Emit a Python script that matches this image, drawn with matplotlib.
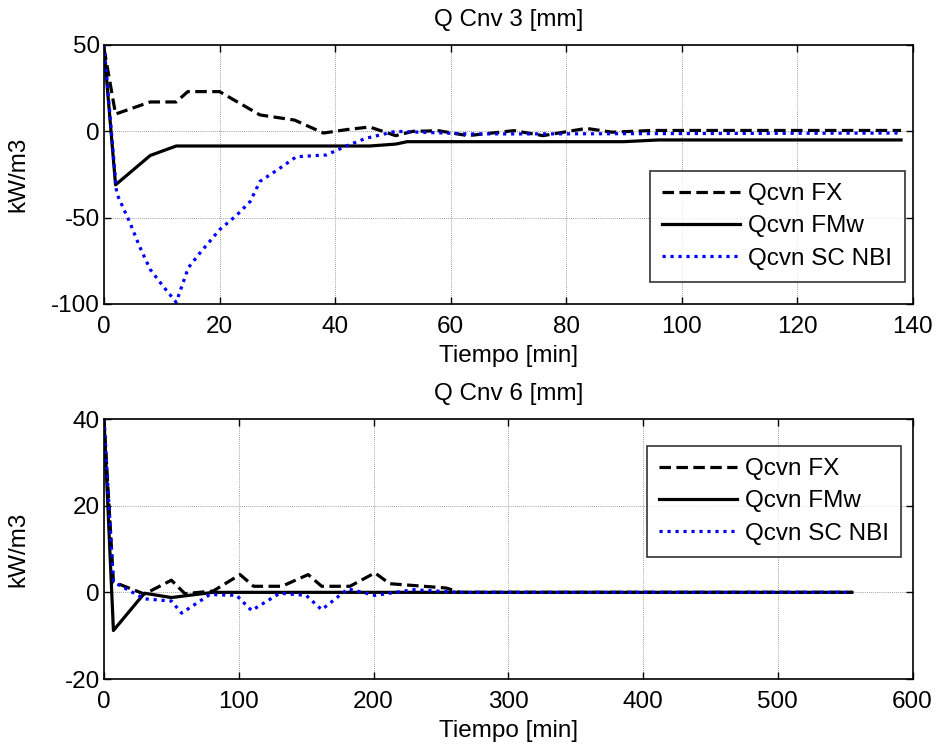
import matplotlib
matplotlib.use("Agg")
import matplotlib.pyplot as plt

plt.rcParams['font.family'] = ['Liberation Sans', 'DejaVu Sans']
plt.rcParams['axes.unicode_minus'] = False

# --- Q Cnv 3 [mm] ---
t3_fx = [0, 2, 8, 12.5, 14.5, 20, 27, 33, 38, 42, 46, 50.5, 53.5, 58, 63, 71, 76, 83.5, 88, 95, 138]
q3_fx = [48, 10, 17, 17, 23, 23, 9.5, 6.5, -1, 1, 2.5, -2.5, 0, 0.3, -2.5, 0.4, -2.5, 1.7, -0.5, 0.5, 0.5]

t3_fmw = [0, 2, 8, 12.5, 46, 50.5, 52.5, 90, 96, 138]
q3_fmw = [48, -31, -14, -8.5, -8.5, -7.4, -6, -6, -5, -5]

t3_nbi = [0, 2.2, 4.5, 6.2, 8, 10.3, 12.5, 14.6, 16.6, 20, 23, 25.3, 27, 30, 33.3, 38.5, 42.3, 45.4, 50.5, 63, 75, 138]
q3_nbi = [50, -36, -53, -67, -80, -90, -99, -79, -70.5, -57, -48.5, -40.7, -29, -22.4, -14.7, -13.7, -8, -4, 0, -1.5, -1.5, -1]

# --- Q Cnv 6 [mm] ---
t6_fx = [0, 7, 30, 50, 60, 81, 101, 111, 132, 151.5, 161.5, 182.5, 201, 212, 254, 264, 555]
q6_fx = [40, 2.4, -0.4, 2.8, -0.3, 0.3, 4.1, 1.4, 1.4, 4.1, 1.4, 1.4, 4.5, 2, 1, 0, 0]

t6_fmw = [0, 7, 30, 50, 81, 555]
q6_fmw = [40, -8.8, -0.2, -1.2, 0, 0]

t6_nbi = [0, 7, 30, 50, 57.6, 78.6, 98.4, 109.5, 130.5, 150, 161.5, 181, 201, 229.5, 264, 555]
q6_nbi = [40, 2.4, -1.5, -2, -4.8, -0.5, -0.7, -4.2, -0.2, -0.7, -4, 0.8, -0.7, 0.6, 0, 0]

labels = ['Qcvn FX', 'Qcvn FMw', 'Qcvn SC NBI']

fig = plt.figure(figsize=(9.42, 7.46), dpi=100)
ax1 = fig.add_axes([0.1104, 0.5925, 0.8584, 0.3472])
ax2 = fig.add_axes([0.1104, 0.0898, 0.8584, 0.3485])

fs = 17.5
lw = 2.3


def style(ax, title, xlim, ylim, xticks, yticks):
    ax.set_xlim(*xlim)
    ax.set_ylim(*ylim)
    ax.set_xticks(xticks)
    ax.set_yticks(yticks)
    ax.grid(True, color='#808080', linestyle=(0, (1, 1.5)), linewidth=0.6)
    ax.tick_params(direction='in', top=True, right=True, length=5, width=1,
                   labelsize=fs)
    ax.tick_params(axis='x', pad=8.5)
    ax.tick_params(axis='y', pad=3)
    for s in ax.spines.values():
        s.set_linewidth(1.2)
    ax.set_title(title, fontsize=fs, pad=14)
    ax.set_xlabel('Tiempo [min]', fontsize=fs, labelpad=5)
    ax.set_ylabel('kW/m3', fontsize=fs)
    ax.yaxis.set_label_coords(-0.0927, 0.5)


def draw(ax, series):
    (tf, qf), (tm, qm), (tn, qn) = series
    ax.plot(tf, qf, color='black', linewidth=lw, linestyle=(0, (3.6, 1.7)), label=labels[0])
    ax.plot(tm, qm, color='black', linewidth=lw, linestyle='-', label=labels[1])
    ax.plot(tn, qn, color='#0000ff', linewidth=lw, linestyle=(0, (1, 1.5)), label=labels[2])


draw(ax1, [(t3_fx, q3_fx), (t3_fmw, q3_fmw), (t3_nbi, q3_nbi)])
style(ax1, 'Q Cnv 3 [mm]', (0, 140), (-100, 50), range(0, 141, 20), [-100, -50, 0, 50])

draw(ax2, [(t6_fx, q6_fx), (t6_fmw, q6_fmw), (t6_nbi, q6_nbi)])
style(ax2, 'Q Cnv 6 [mm]', (0, 600), (-20, 40), range(0, 601, 100), [-20, 0, 20, 40])

for ax, anchor in ((ax1, (0.990, 0.5135)), (ax2, (0.986, 0.896))):
    leg = ax.legend(loc='upper right', bbox_to_anchor=anchor, fontsize=fs,
                    frameon=True, fancybox=False, edgecolor='black',
                    handlelength=3.2, handletextpad=0.35, borderpad=0.5,
                    labelspacing=0.42, borderaxespad=0)
    leg.get_frame().set_linewidth(1.2)

fig.savefig('out.png', dpi=100, facecolor='white')
